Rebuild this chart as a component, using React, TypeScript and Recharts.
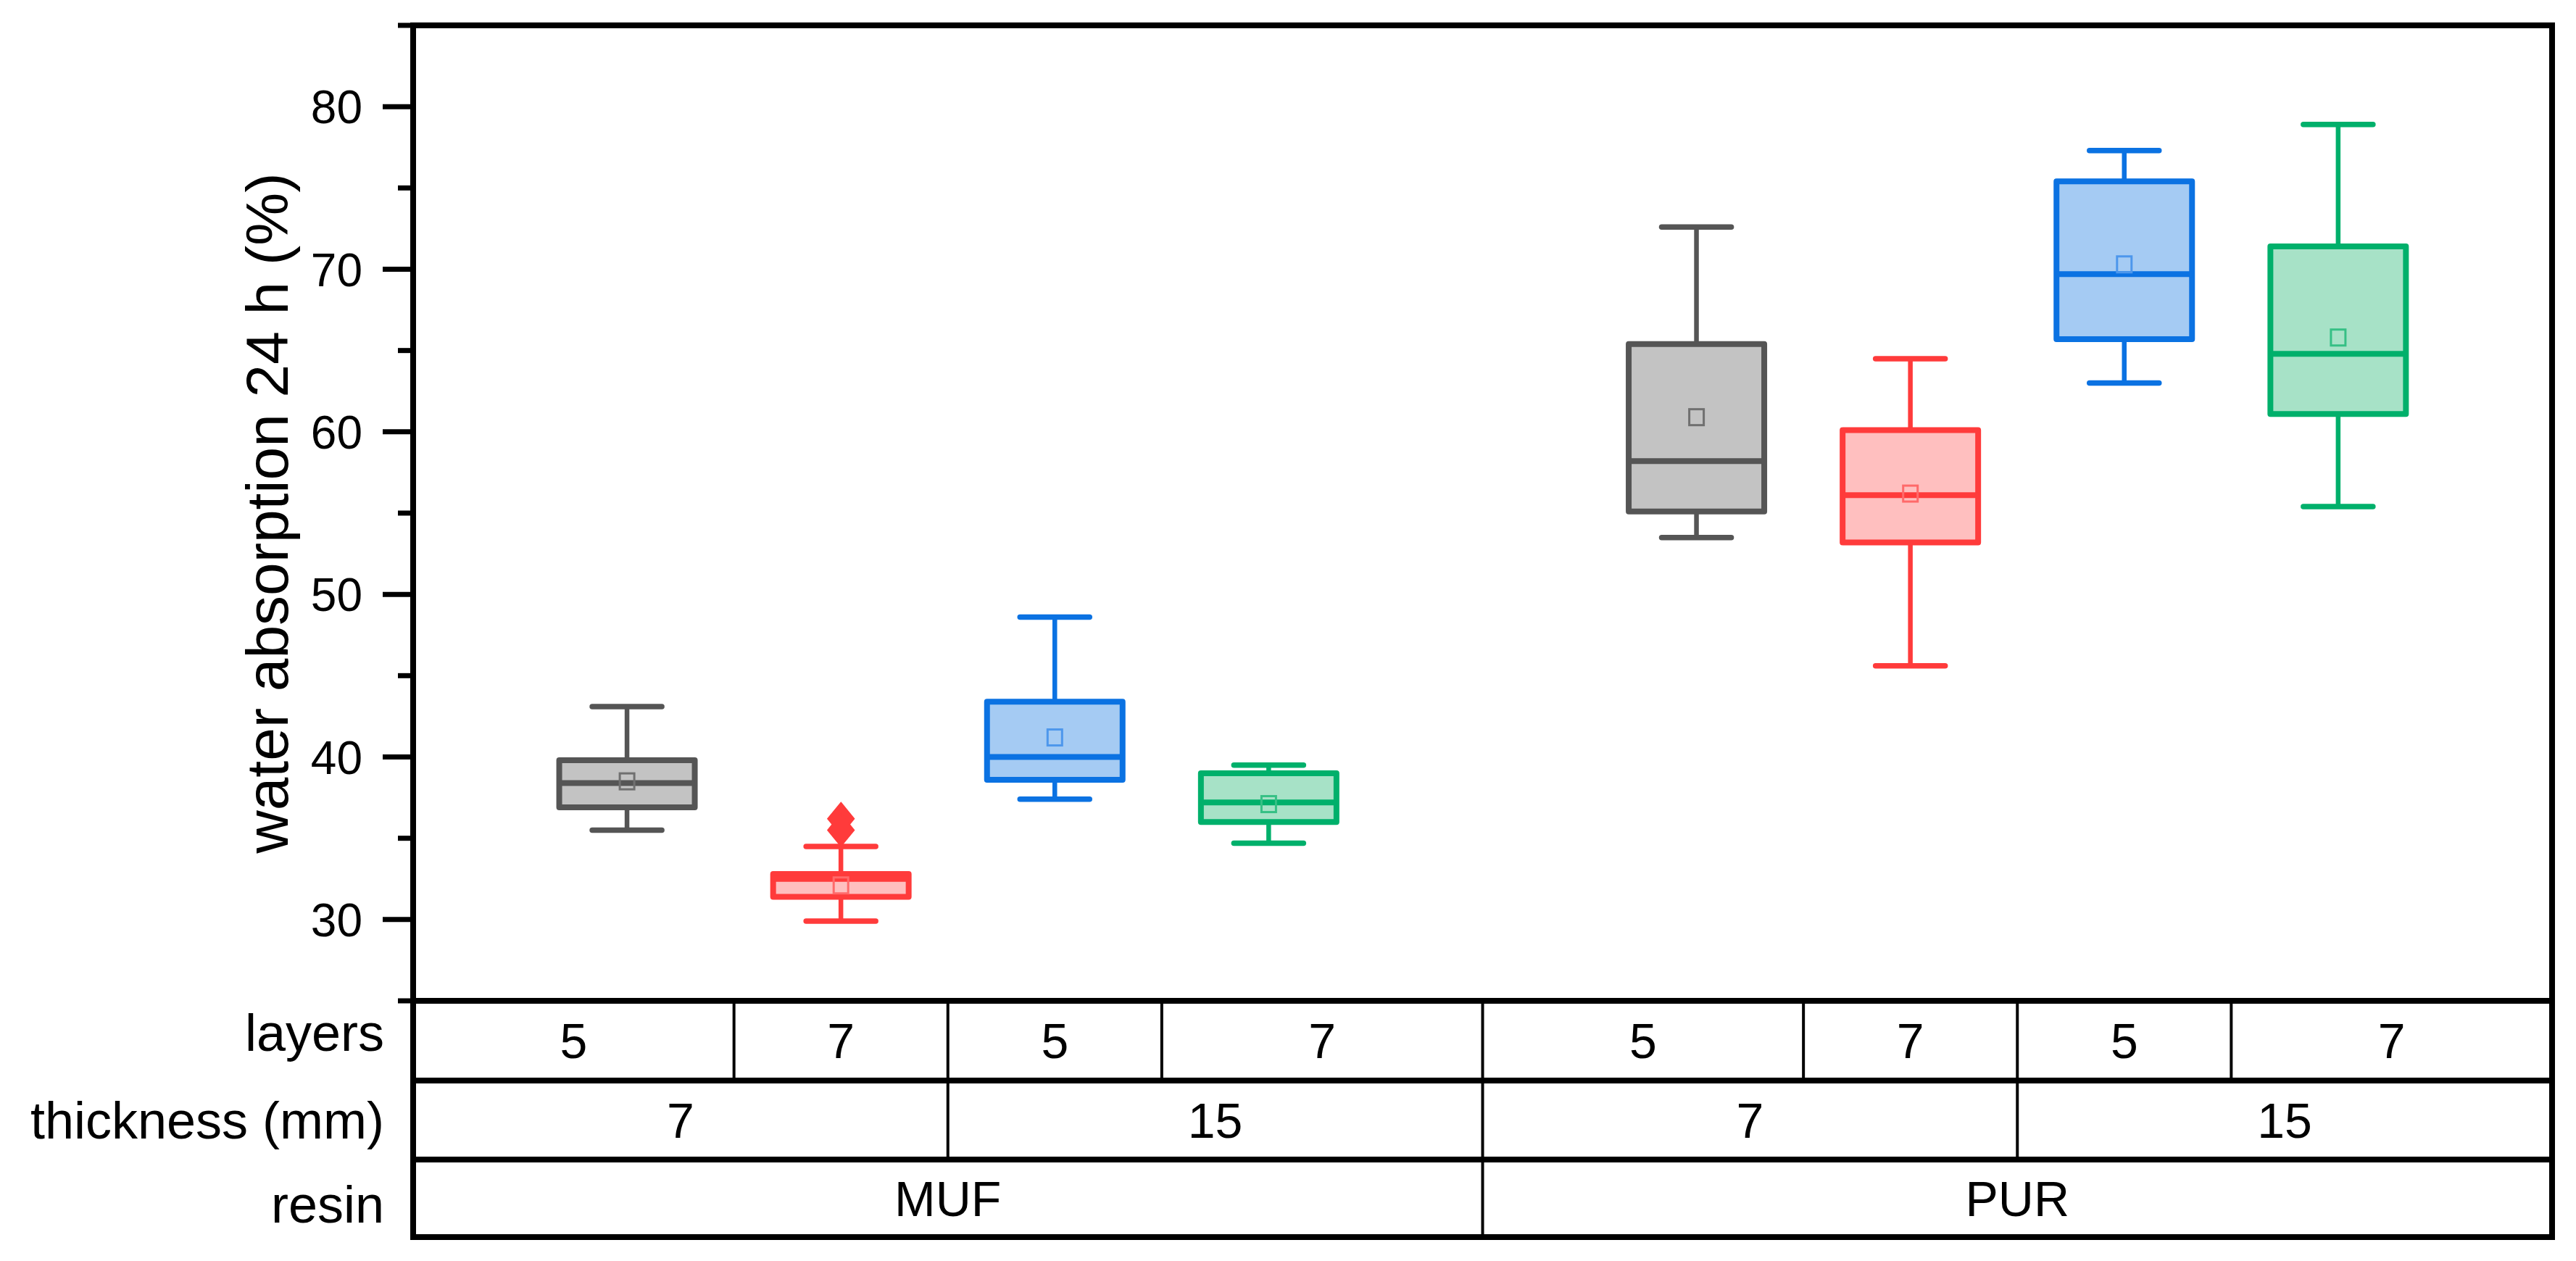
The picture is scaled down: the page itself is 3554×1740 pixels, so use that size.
import React from 'react';
import { ComposedChart, Bar, Scatter, XAxis, YAxis } from 'recharts';

// groups, left to right
const resin = ['MUF', 'MUF', 'MUF', 'MUF', 'PUR', 'PUR', 'PUR', 'PUR'];
const thickness = ['7', '7', '15', '15', '7', '7', '15', '15'];
const layers = ['5', '7', '5', '7', '5', '7', '5', '7'];
const positions = [1, 2, 3, 4, 6, 7, 8, 9];

// box statistics (%)
const whiskerLow = [35.5, 29.9, 37.4, 34.7, 53.5, 45.6, 63.0, 55.4];
const q1 = [36.9, 31.4, 38.6, 36.0, 55.1, 53.2, 65.7, 61.1];
const median = [38.4, 32.5, 40.0, 37.2, 58.2, 56.1, 69.7, 64.8];
const q3 = [39.8, 32.8, 43.4, 39.0, 65.4, 60.1, 75.4, 71.4];
const whiskerHigh = [43.1, 34.5, 48.6, 39.5, 72.6, 64.5, 77.3, 78.9];
const mean = [38.5, 32.1, 41.2, 37.1, 60.9, 56.2, 70.3, 65.8];

const outlierX = [2, 2];
const outlierY = [36.2, 35.5];

const yTicks = [25, 30, 35, 40, 45, 50, 55, 60, 65, 70, 75, 80, 85];

const W = 3554;
const H = 1740;
const FONT = '"Liberation Sans", Arial, Helvetica, sans-serif';
const BOX_W = 187;
const CAP_W = 96;

const palette: Record<string, { stroke: string; fill: string; mean: string }> = {
  '7-5': { stroke: '#555555', fill: '#c3c3c3', mean: '#707070' },
  '7-7': { stroke: '#ff3b3b', fill: '#ffbfbf', mean: '#ff6a6a' },
  '15-5': { stroke: '#0b72e2', fill: '#a5cbf3', mean: '#4d97ec' },
  '15-7': { stroke: '#00b06b', fill: '#a7e2c7', mean: '#36c085' },
};

const boxes = positions.map((x, i) => ({
  x,
  key: `${thickness[i]}-${layers[i]}`,
  lo: whiskerLow[i],
  q1: q1[i],
  med: median[i],
  q3: q3[i],
  hi: whiskerHigh[i],
  mean: mean[i],
}));

const outliers = outlierX.map((x, i) => ({
  x,
  y: outlierY[i],
  key: boxes.find((b) => b.x === x)!.key,
}));

// table cells below the plot
const edges = [
  positions[0] - 1,
  ...positions.slice(1).map((p, i) => (positions[i] + p) / 2),
  positions[positions.length - 1] + 1,
];

type Cell = { from: number; to: number; label: string };

function mergeCells(keys: string[][], labels: string[]): Cell[] {
  const out: Cell[] = [];
  let start = 0;
  for (let i = 1; i <= labels.length; i++) {
    if (i === labels.length || keys.some((k) => k[i] !== k[start])) {
      out.push({ from: edges[start], to: edges[i], label: labels[start] });
      start = i;
    }
  }
  return out;
}

// ids sort in display order (top row first)
const rows = [
  {
    id: 'r1_layers',
    title: 'layers',
    height: 110,
    titleDy: -12,
    cells: positions.map((_, i) => ({ from: edges[i], to: edges[i + 1], label: layers[i] })),
  },
  { id: 'r2_thick', title: 'thickness (mm)', height: 109, titleDy: 0, cells: mergeCells([resin, thickness], thickness) },
  { id: 'r3_resin', title: 'resin', height: 107, titleDy: 8, cells: mergeCells([resin], resin) },
];

type Row = (typeof rows)[number];

const rowTicks = (row: Row) => {
  const t = new Set<number>();
  row.cells.forEach((c) => {
    t.add(c.from);
    t.add(c.to);
    t.add((c.from + c.to) / 2);
  });
  return Array.from(t).sort((a, b) => a - b);
};

const makeRowTick = (row: Row) => (props: any) => {
  const { x, y, payload } = props;
  const v = payload.value;
  const cell = row.cells.find((c) => Math.abs((c.from + c.to) / 2 - v) < 1e-6);
  if (cell) {
    return (
      <text x={x} y={y + row.height / 2} dy="0.36em" textAnchor="middle" fontSize={68} fontFamily={FONT} fill="#000">
        {cell.label}
      </text>
    );
  }
  const outer = v <= edges[0] || v >= edges[edges.length - 1];
  return (
    <g>
      <line x1={x} x2={x} y1={y} y2={y + row.height} stroke="#000" strokeWidth={outer ? 8 : 4} />
      {v <= edges[0] && (
        <text
          x={x - 40}
          y={y + row.height / 2 + row.titleDy}
          dy="0.36em"
          textAnchor="end"
          fontSize={72}
          fontFamily={FONT}
          fill="#000"
        >
          {row.title}
        </text>
      )}
    </g>
  );
};

const YTick = (props: any) => {
  const { x, y, payload } = props;
  const v = payload.value;
  const major = v % 10 === 0 && v >= 30 && v <= 80;
  return (
    <g>
      <line x1={x - (major ? 42 : 21)} x2={x} y1={y} y2={y} stroke="#000" strokeWidth={7} />
      {major && (
        <text x={x - 70} y={y} dy="0.36em" textAnchor="end" fontSize={64} fontFamily={FONT} fill="#000">
          {v}
        </text>
      )}
    </g>
  );
};

const YTitle = (props: any) => {
  const vb = props.viewBox || { x: 0, y: 35, width: 570, height: 1346 };
  const cx = vb.x + 368;
  const cy = vb.y + vb.height / 2;
  return (
    <text
      x={cx}
      y={cy}
      transform={`rotate(-90 ${cx} ${cy})`}
      textAnchor="middle"
      dominantBaseline="central"
      fontSize={82}
      fontFamily={FONT}
      fill="#000"
    >
      water absorption 24 h (%)
    </text>
  );
};

const BoxShape = (props: any) => {
  const { x, y, width, height, payload } = props;
  if (payload == null || height == null) return null;
  const top = Math.min(y, y + height);
  const h = Math.abs(height);
  const k = h / (payload.hi - payload.lo);
  const py = (v: number) => top + (payload.hi - v) * k;
  const cx = x + width / 2;
  const c = palette[payload.key];
  return (
    <g>
      <line x1={cx} x2={cx} y1={py(payload.hi)} y2={py(payload.q3)} stroke={c.stroke} strokeWidth={6.5} />
      <line x1={cx} x2={cx} y1={py(payload.q1)} y2={py(payload.lo)} stroke={c.stroke} strokeWidth={6.5} />
      <line x1={cx - CAP_W / 2} x2={cx + CAP_W / 2} y1={py(payload.hi)} y2={py(payload.hi)} stroke={c.stroke} strokeWidth={7.5} strokeLinecap="round" />
      <line x1={cx - CAP_W / 2} x2={cx + CAP_W / 2} y1={py(payload.lo)} y2={py(payload.lo)} stroke={c.stroke} strokeWidth={7.5} strokeLinecap="round" />
      <rect
        x={x}
        y={py(payload.q3)}
        width={width}
        height={py(payload.q1) - py(payload.q3)}
        fill={c.fill}
        stroke={c.stroke}
        strokeWidth={8}
        strokeLinejoin="round"
      />
      <line x1={x} x2={x + width} y1={py(payload.med)} y2={py(payload.med)} stroke={c.stroke} strokeWidth={8} />
    </g>
  );
};

const MeanShape = (props: any) => {
  const { cx, cy, payload } = props;
  if (cx == null || cy == null) return null;
  const c = palette[payload.key];
  return <rect x={cx - 10} y={cy - 11} width={20} height={22} fill="none" stroke={c.mean} strokeWidth={3} />;
};

const OutlierShape = (props: any) => {
  const { cx, cy, payload } = props;
  if (cx == null || cy == null) return null;
  const c = palette[payload.key];
  return (
    <polygon
      points={`${cx},${cy - 22} ${cx + 18},${cy} ${cx},${cy + 22} ${cx - 18},${cy}`}
      fill={c.stroke}
      stroke={c.stroke}
      strokeWidth={2}
    />
  );
};

const frameLine = { stroke: '#000', strokeWidth: 8, strokeLinecap: 'square' as const };

export default function App() {
  return (
    <div style={{ position: 'absolute', left: 0, top: 0, width: W, height: H, background: '#fff' }}>
      <ComposedChart width={W} height={H} data={boxes} margin={{ top: 34, right: 32, bottom: 32, left: 0 }}>
        <XAxis xAxisId="a_data" type="number" dataKey="x" domain={[0, 10]} ticks={positions} height={0} hide />
        <XAxis
          xAxisId="a_top"
          orientation="top"
          type="number"
          dataKey="x"
          domain={[0, 10]}
          height={1}
          tick={false}
          tickLine={false}
          axisLine={frameLine}
        />
        {rows.map((row) => (
          <XAxis
            key={row.id}
            xAxisId={row.id}
            type="number"
            dataKey="x"
            domain={[0, 10]}
            ticks={rowTicks(row)}
            interval={0}
            tickSize={0}
            tickMargin={0}
            tickLine={false}
            height={row.height}
            axisLine={frameLine}
            tick={makeRowTick(row)}
          />
        ))}
        <XAxis
          xAxisId="r4_bottom"
          type="number"
          dataKey="x"
          domain={[0, 10]}
          height={1}
          tick={false}
          tickLine={false}
          axisLine={frameLine}
        />
        <YAxis
          yAxisId="left"
          type="number"
          domain={[25, 85]}
          ticks={yTicks}
          interval={0}
          width={570}
          tickSize={0}
          tickMargin={0}
          tickLine={false}
          axisLine={frameLine}
          tick={YTick}
          label={{ content: (p: any) => <YTitle {...p} /> }}
        />
        <YAxis
          yAxisId="right"
          orientation="right"
          type="number"
          domain={[25, 85]}
          width={1}
          tick={false}
          tickLine={false}
          axisLine={frameLine}
        />
        <Bar
          xAxisId="a_data"
          yAxisId="left"
          dataKey={(d: any) => [d.lo, d.hi]}
          barSize={BOX_W}
          shape={BoxShape}
          isAnimationActive={false}
        />
        <Scatter xAxisId="a_data" yAxisId="left" dataKey="mean" shape={MeanShape} isAnimationActive={false} />
        <Scatter
          xAxisId="a_data"
          yAxisId="left"
          data={outliers}
          dataKey="y"
          shape={OutlierShape}
          isAnimationActive={false}
        />
      </ComposedChart>
    </div>
  );
}
